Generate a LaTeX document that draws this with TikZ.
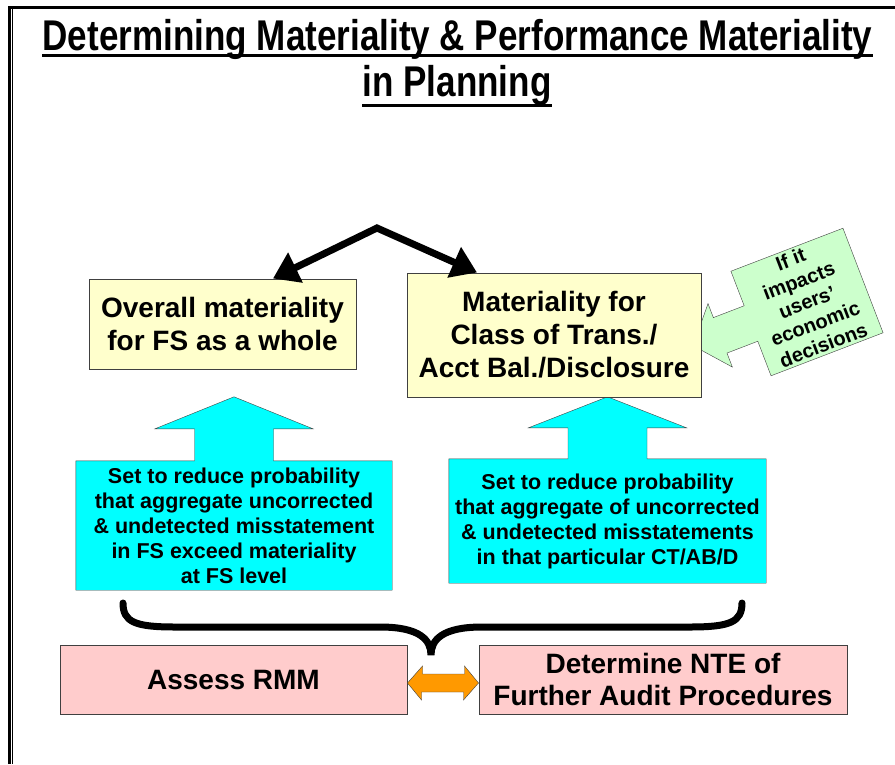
\documentclass[tikz,border=0pt]{standalone}
\usepackage{fontspec}
\setmainfont{Liberation Sans}
\newfontfamily\narrowfont{Liberation Sans}[FakeStretch=0.815]
\usetikzlibrary{arrows.meta,backgrounds,calc}

\definecolor{boxyellow}{HTML}{FFFFCC}
\definecolor{boxcyan}{HTML}{00FFFF}
\definecolor{boxgreen}{HTML}{CCFFCC}
\definecolor{boxpink}{HTML}{FFCCCC}
\definecolor{linkorange}{HTML}{FF9900}
\definecolor{edgegray}{HTML}{404040}

\tikzset{
  titletext/.style={inner sep=0pt,font=\narrowfont\bfseries\fontsize{43}{46}\selectfont},
  levelbox/.style={draw=edgegray,line width=1pt,fill=boxyellow,align=center,inner sep=0pt,
    font=\bfseries\fontsize{28}{33}\selectfont},
  reducebox/.style={align=center,inner sep=0pt,font=\bfseries\fontsize{21.5}{25}\selectfont},
  stepbox/.style={draw=edgegray,line width=1pt,fill=boxpink,align=center,inner sep=0pt,
    font=\bfseries\fontsize{28}{32}\selectfont},
  forkarrow/.style={line width=7pt,line join=miter,{Triangle[length=25pt,width=32pt]}-{Triangle[length=25pt,width=32pt]}},
}

\begin{document}
\begin{tikzpicture}[x=1pt,y=-1pt]
  \useasboundingbox (0,0) rectangle (895,764);
  % frame
  \draw[line width=3pt] (9.5,764) -- (9.5,7) -- (895,7);
  \draw[line width=1pt] (12.5,764) -- (12.5,9);

  % title
  \node[titletext,anchor=base] (title1) at (457.5,50) {Determining Materiality \& Performance Materiality};
  \node[titletext,anchor=base] (title2) at (457,96) {in Planning};
  \draw[line width=3pt] ([yshift=-5.5pt]title1.base west) -- ([yshift=-5.5pt]title1.base east);
  \draw[line width=3pt] ([yshift=-9pt]title2.base west) -- ([yshift=-9pt]title2.base east);

  % materiality levels
  \node[levelbox,minimum width=267pt,minimum height=90pt] (ovm) at (222.5,324) {Overall materiality\\for FS as a whole};
  \node[levelbox,minimum width=294pt,minimum height=124pt] (ctm) at (554,335) {Materiality for\\Class of Trans./\\Acct Bal./Disclosure};
  \coordinate (fork) at (377,228);
  \draw[forkarrow] ([xshift=50.5pt]ovm.north) -- (fork) -- ([xshift=-77pt]ctm.north);

  % callout
  \node[rotate=21,align=center,inner sep=0pt,font=\bfseries\fontsize{20}{23}\selectfont] (impact) at (807,302)
    {If it\\impacts\\users'\\economic\\decisions};
  \begin{scope}[on background layer,shift={(impact.center)},rotate=21]
    \draw[draw=edgegray,fill=boxgreen] (-60,-56) -- (60,-56) -- (60,56) -- (-60,56) -- (-60,19) -- (-93,19)
      -- (-93,34) -- (-122,0) -- (-93,-34) -- (-93,-19) -- (-60,-19) -- cycle;
  \end{scope}

  % reduce probability boxes with up arrows
  \node[reducebox,minimum width=316pt,minimum height=129pt] (fsrisk) at (234,525.5)
    {Set to reduce probability\\that aggregate uncorrected\\\& undetected misstatement\\in FS exceed materiality\\at FS level};
  \node[reducebox,minimum width=317pt,minimum height=124pt] (ctrisk) at (607.5,521)
    {Set to reduce probability\\that aggregate of uncorrected\\\& undetected misstatements\\in that particular CT/AB/D};
  \begin{scope}[on background layer]
    \foreach \b/\s/\t in {fsrisk/32/64,ctrisk/31/62} {
      \draw[draw=edgegray,fill=boxcyan] (\b.south west) -- (\b.north west)
        -- ([xshift=-39.5pt]\b.north) -- ([xshift=-39.5pt,yshift=\s pt]\b.north)
        -- ([xshift=-79pt,yshift=\s pt]\b.north) -- ([yshift=\t pt]\b.north)
        -- ([xshift=79pt,yshift=\s pt]\b.north) -- ([xshift=39.5pt,yshift=\s pt]\b.north)
        -- ([xshift=39.5pt]\b.north) -- (\b.north east) -- (\b.south east) -- cycle;
    }
  \end{scope}

  % brace
  \draw[line width=7pt,line cap=round] (123,603) .. controls (123,622) and (135,627) .. (175,627)
    -- (380,627) .. controls (420,627) and (431,640) .. (431,655)
    .. controls (431,640) and (442,627) .. (482,627) -- (690,627)
    .. controls (730,627) and (742,622) .. (742,603);

  % risk assessment and procedures
  \node[stepbox,minimum width=347pt,minimum height=69pt] (assess) at (233.5,679.5) {Assess RMM};
  \node[stepbox,minimum width=368pt,minimum height=69pt] (nte) at (663,679.5) {Determine NTE of\\Further Audit Procedures};
  \draw[draw=edgegray,fill=linkorange] ([yshift=-3.5pt]assess.east) -- ++(15,-17) -- ++(0,8) -- ++(42,0) -- ++(0,-8)
    -- ([yshift=-3.5pt]nte.west) -- ++(-15,17) -- ++(0,-8) -- ++(-42,0) -- ++(0,8) -- cycle;
\end{tikzpicture}
\end{document}
